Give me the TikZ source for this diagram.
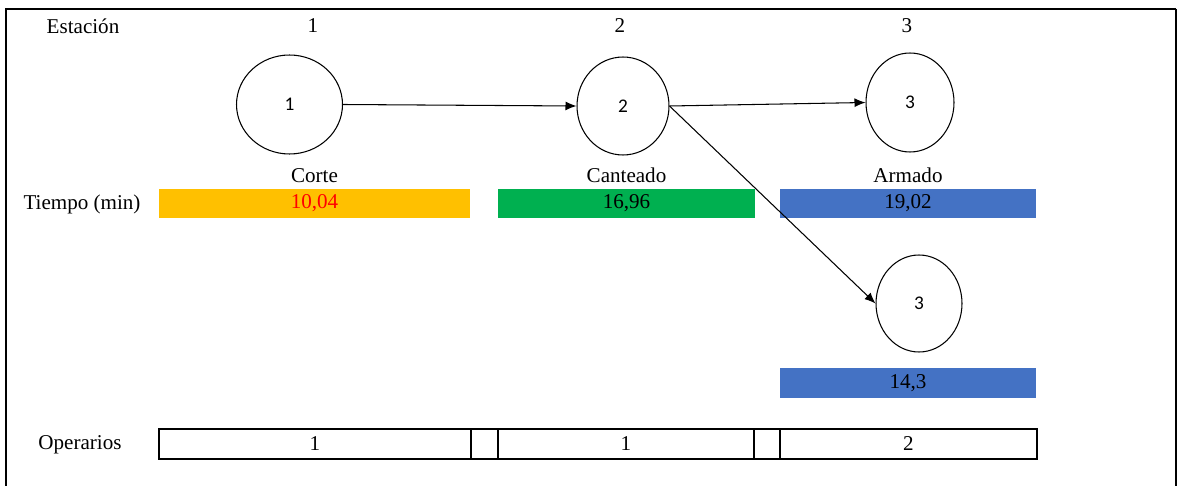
\documentclass[tikz,border=0pt]{standalone}
\usepackage{fontspec}
\setmainfont{Liberation Serif}
\newfontfamily\calibfont{Carlito}
\usepackage{xcolor}
\usepackage{tikz}
\usetikzlibrary{shapes.geometric, arrows.meta, positioning}
\definecolor{barorange}{HTML}{FFC000}
\definecolor{bargreen}{HTML}{00B050}
\definecolor{barblue}{HTML}{4472C4}
\tikzstyle{station} = [ellipse, draw=black, line width=0.6pt, inner sep=0pt, font=\calibfont\fontsize{11}{13}\selectfont]
\tikzstyle{txt} = [font=\fontsize{12}{14}\selectfont]
\tikzstyle{bar} = [rectangle, minimum height=0.58cm, inner sep=0pt, outer sep=0pt, text centered, font=\fontsize{12}{14}\selectfont]
\tikzstyle{cell} = [rectangle, draw=black, line width=1.1pt, minimum height=0.6cm, inner sep=0pt, outer sep=0pt, font=\fontsize{12}{14}\selectfont]
\tikzstyle{arrow} = [line width=0.6pt,-{Latex[length=2.2mm,width=1.8mm]}]

\begin{document}
\begin{tikzpicture}[x=0.02cm, y=-0.02cm]
    \useasboundingbox (0,0) rectangle (1179,486);
    \draw [line width=0.8pt] (6,486) -- (6,9) -- (1176,9);
    \draw [line width=1.3pt] (1176,9) -- (1176,486);

    % header row
    \node (h_estacion) [txt] at (83,26) {Estación};
    \node (h_one) [txt] at (313,26) {1};
    \node (h_two) [txt] at (620,26) {2};
    \node (h_three) [txt] at (907,26) {3};

    % stations
    \node (st_one) [station, minimum width=2.12cm, minimum height=1.98cm] at (289.5,104.5) {1};
    \node (st_two) [station, minimum width=1.84cm, minimum height=1.96cm] at (623,106) {2};
    \node (st_three) [station, minimum width=1.76cm, minimum height=1.98cm] at (910,102.5) {3};
    \node (st_three_b) [station, minimum width=1.72cm, minimum height=1.94cm] at (919,303.5) {3};

    % times
    \node (h_tiempo) [txt] at (82,204) {Tiempo (min)};
    \node (t_corte) [bar, fill=barorange, text=red, minimum width=6.22cm] at (314.5,203.5) {10,04};
    \node (t_canteado) [bar, fill=bargreen, minimum width=5.14cm] at (626.5,203.5) {16,96};
    \node (t_armado) [bar, fill=barblue, minimum width=5.12cm] at (908,203.5) {19,02};
    \node (t_armado_b) [bar, fill=barblue, minimum width=5.12cm, minimum height=0.6cm] at (908,383) {14,3};
    \node (n_corte) [txt, above=0pt of t_corte] {Corte};
    \node (n_canteado) [txt, above=0pt of t_canteado] {Canteado};
    \node (n_armado) [txt, above=0pt of t_armado] {Armado};

    % operators
    \node (h_operarios) [txt] at (80,445) {Operarios};
    \node (op_one) [cell, minimum width=6.24cm] at (315,444) {1};
    \node (op_gap_a) [cell, minimum width=0.54cm, right=0pt of op_one] {};
    \node (op_two) [cell, minimum width=5.12cm, right=0pt of op_gap_a] {1};
    \node (op_gap_b) [cell, minimum width=0.52cm, right=0pt of op_two] {};
    \node (op_three) [cell, minimum width=5.14cm, right=0pt of op_gap_b] {2};

    \draw [arrow] (st_one.east) -- (st_two.west);
    \draw [arrow] (st_two.east) -- (st_three.west);
    \draw [arrow] (st_two.east) -- (st_three_b.west);
\end{tikzpicture}
\end{document}
